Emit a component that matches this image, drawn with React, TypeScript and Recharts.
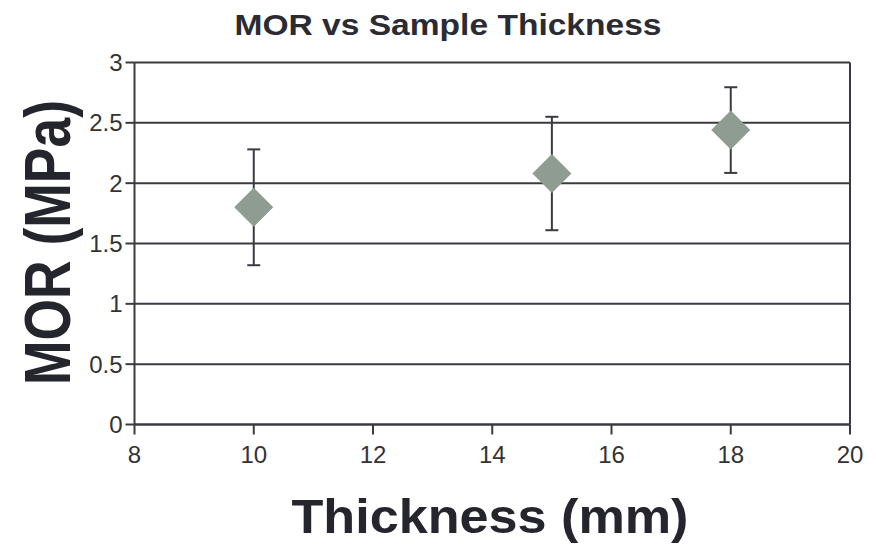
import { ScatterChart, Scatter, XAxis, YAxis, CartesianGrid, ErrorBar, ReferenceLine } from 'recharts';

const thickness = [10, 15, 18];
const mor = [1.8, 2.08, 2.44];
const morError = [0.48, 0.47, 0.355];
const xTicks = [8, 10, 12, 14, 16, 18, 20];
const yTicks = [0, 0.5, 1, 1.5, 2, 2.5, 3];

const data = thickness.map((t, i) => ({ x: t, y: mor[i], err: morError[i] }));

const LINE = '#3a3a42';
const FONT = '"Liberation Sans", Arial, sans-serif';

const Diamond = (props: any) => {
    const { cx, cy } = props;
    const r = 19.5;
    return (
        <path
            d={`M${cx},${cy - r} L${cx + r},${cy} L${cx},${cy + r} L${cx - r},${cy} Z`}
            fill="#8e9c92"
        />
    );
};

export default function App() {
    return (
        <div style={{ position: 'relative', width: 876, height: 544, background: '#fff' }}>
            <style>{'body{margin:0}'}</style>
            <ScatterChart width={876} height={544} margin={{ top: 62.5, right: 26, bottom: 79.5, left: 0 }}>
                <CartesianGrid vertical={false} stroke={LINE} strokeWidth={2} />
                <XAxis
                    type="number"
                    dataKey="x"
                    domain={[8, 20]}
                    ticks={xTicks}
                    height={40}
                    tickSize={10}
                    tickMargin={11}
                    axisLine={{ stroke: LINE, strokeWidth: 2 }}
                    tickLine={{ stroke: LINE, strokeWidth: 2 }}
                    tick={{ fill: '#333', fontSize: 24, fontFamily: FONT }}
                    allowDataOverflow
                />
                <YAxis
                    type="number"
                    dataKey="y"
                    domain={[0, 3]}
                    ticks={yTicks}
                    width={134.5}
                    tickSize={9}
                    tickMargin={3}
                    axisLine={{ stroke: LINE, strokeWidth: 2 }}
                    tickLine={{ stroke: LINE, strokeWidth: 2 }}
                    tick={{ fill: '#333', fontSize: 24, fontFamily: FONT }}
                    allowDataOverflow
                />
                <ReferenceLine x={20} stroke={LINE} strokeWidth={2} />
                <Scatter data={data} shape={<Diamond />} isAnimationActive={false}>
                    <ErrorBar dataKey="err" direction="y" width={6.5} stroke={LINE} strokeWidth={2} />
                </Scatter>
            </ScatterChart>
            <svg
                width={876}
                height={544}
                style={{ position: 'absolute', left: 0, top: 0, pointerEvents: 'none' }}
            >
                <text x={448} y={35} textAnchor="middle" fontFamily={FONT} fontWeight="bold" fontSize={30}
                    fill="#2b2b33" textLength={427} lengthAdjust="spacingAndGlyphs">
                    MOR vs Sample Thickness
                </text>
                <text x={490} y={533} textAnchor="middle" fontFamily={FONT} fontWeight="bold" fontSize={49}
                    fill="#25252d" textLength={397} lengthAdjust="spacingAndGlyphs">
                    Thickness (mm)
                </text>
                <text x={70} y={242.5} textAnchor="middle" fontFamily={FONT} fontWeight="bold" fontSize={64}
                    fill="#25252d" textLength={285} lengthAdjust="spacingAndGlyphs"
                    transform="rotate(-90 70 242.5)">
                    MOR (MPa)
                </text>
            </svg>
        </div>
    );
}
